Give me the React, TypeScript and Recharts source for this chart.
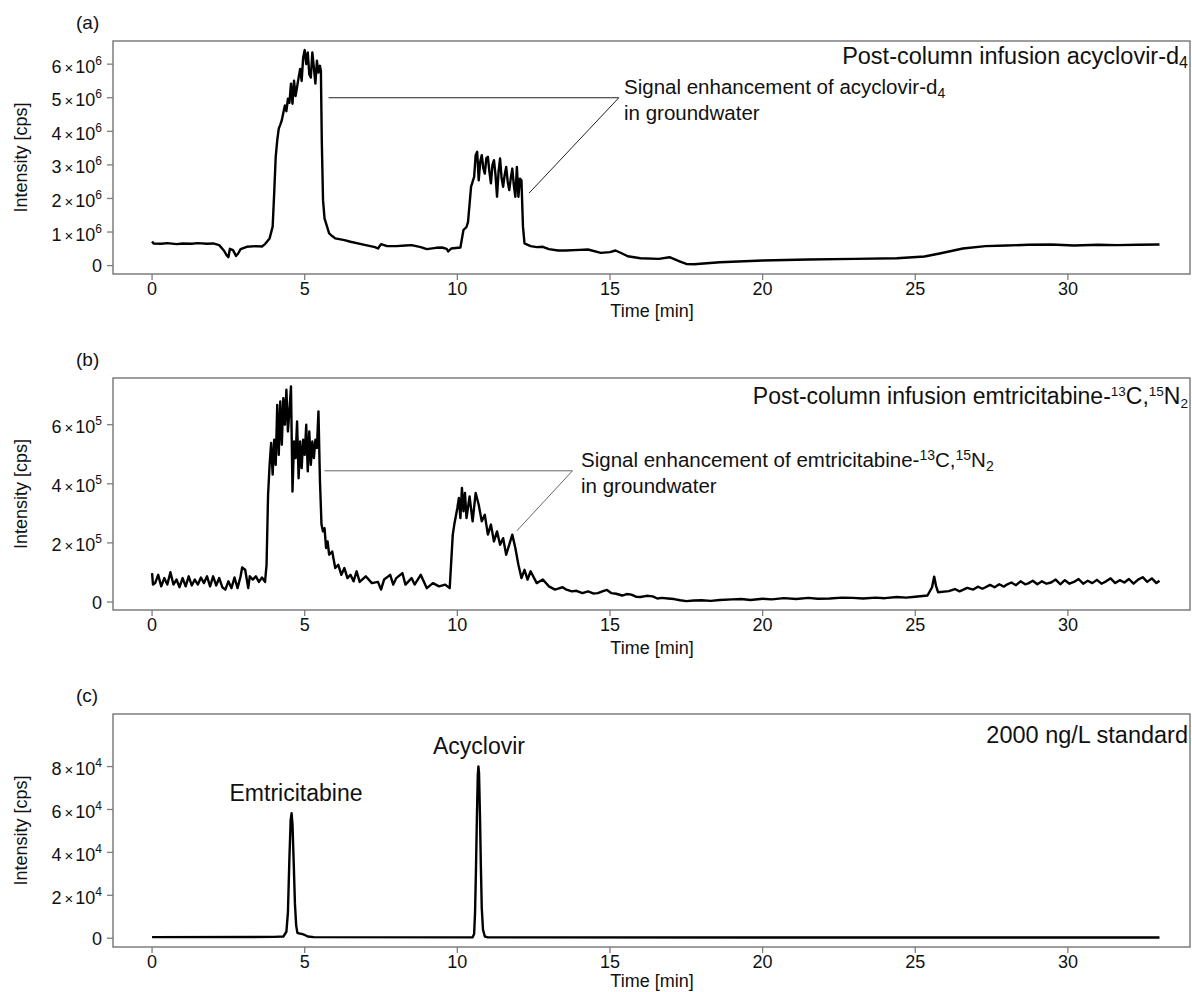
import React from 'react'
import { LineChart, Line, XAxis, YAxis, ReferenceArea, ReferenceLine } from 'recharts'

const FONT = "'Liberation Sans', Arial, Helvetica, sans-serif"
const BOX = '#7d7d7d'

const TIME_TICKS = [0, 5, 10, 15, 20, 25, 30]
const TIME_DOMAIN: [number, number] = [-1.28, 34]

// (a) post-column infusion acyclovir-d4, intensity x 10^6 cps
const timeA = [
  0, 0.05, 0.3, 0.5, 0.8, 1.0, 1.3, 1.5, 1.8, 2.0,
  2.2, 2.35, 2.45, 2.5, 2.55, 2.65, 2.75, 2.82, 2.9, 3.1,
  3.4, 3.6, 3.7, 3.85, 3.95, 4.0, 4.05, 4.1, 4.15, 4.2,
  4.25, 4.3, 4.35, 4.4, 4.45, 4.5, 4.55, 4.6, 4.65, 4.7,
  4.75, 4.8, 4.85, 4.9, 4.95, 5.0, 5.05, 5.1, 5.15, 5.2,
  5.25, 5.3, 5.35, 5.4, 5.45, 5.5, 5.53, 5.56, 5.6, 5.65,
  5.7, 5.8, 5.9, 6.0, 6.3, 6.5, 7.0, 7.3, 7.4, 7.5,
  7.7, 8.0, 8.3, 8.5, 8.8, 9.0, 9.3, 9.5, 9.65, 9.7,
  9.8, 10.1, 10.2, 10.3, 10.35, 10.45, 10.55, 10.6, 10.65, 10.7,
  10.75, 10.8, 10.85, 10.9, 10.95, 11.0, 11.05, 11.1, 11.15, 11.2,
  11.25, 11.3, 11.35, 11.4, 11.45, 11.5, 11.55, 11.6, 11.65, 11.7,
  11.75, 11.8, 11.85, 11.9, 11.95, 12.0, 12.05, 12.1, 12.15, 12.2,
  12.4, 12.6, 12.8, 13.0, 13.3, 13.55, 14.0, 14.28, 14.7, 15.0,
  15.18, 15.4, 15.58, 16.0, 16.6, 16.95, 17.3, 17.5, 17.75, 18.6,
  20.0, 21.5, 23.0, 24.4, 25.3, 25.8, 26.56, 27.3, 28.0, 28.7,
  29.45, 30.2, 31.0, 31.6, 32.3, 33.0,
]
const intensityA = [
  0.72, 0.66, 0.65, 0.67, 0.64, 0.66, 0.65, 0.67, 0.65, 0.66,
  0.61, 0.45, 0.3, 0.25, 0.5, 0.46, 0.29, 0.36, 0.49, 0.56,
  0.58, 0.57, 0.64, 0.81, 1.16, 2.15, 3.24, 3.73, 4.08, 4.2,
  4.33, 4.55, 4.77, 4.6, 4.97, 4.85, 5.42, 4.82, 5.51, 5.05,
  5.32, 5.6, 5.86, 5.5, 6.2, 6.42, 6.0, 6.35, 5.7, 5.6,
  6.35, 5.9, 5.42, 6.1, 5.75, 5.95, 5.8, 3.7, 1.95, 1.4,
  1.26, 0.96, 0.88, 0.81, 0.76, 0.71, 0.61, 0.55, 0.51, 0.64,
  0.58, 0.58, 0.6, 0.61, 0.55, 0.49, 0.53, 0.54, 0.5, 0.42,
  0.51, 0.54, 1.06, 1.15, 1.3, 2.35, 2.64, 3.29, 3.39, 2.54,
  3.1, 3.29, 2.9, 2.74, 3.2, 3.24, 2.8, 2.45, 3.0, 3.14,
  2.7, 2.05, 2.8, 3.19, 2.6, 2.35, 2.7, 2.94, 2.5, 2.25,
  2.6, 2.89, 2.4, 2.05, 2.94, 2.05, 2.59, 2.54, 1.16, 0.66,
  0.58, 0.55, 0.56, 0.49, 0.45, 0.45, 0.47, 0.48, 0.38, 0.4,
  0.45, 0.36, 0.28, 0.22, 0.2, 0.25, 0.12, 0.05, 0.04, 0.1,
  0.15, 0.18, 0.2, 0.22, 0.27, 0.36, 0.51, 0.58, 0.6, 0.62,
  0.63, 0.6, 0.62, 0.61, 0.62, 0.63,
]
const ticksA = [0, 1, 2, 3, 4, 5, 6]
const domainA: [number, number] = [-0.25, 6.69]
const calloutA = [[5.78, 5.0], [15.29, 5.0], [12.35, 2.16]]

// (b) post-column infusion emtricitabine-13C,15N2, intensity x 10^5 cps
const timeB = [
  0, 0.03, 0.1, 0.2, 0.3, 0.4, 0.5, 0.6, 0.7, 0.8,
  0.9, 1.0, 1.1, 1.2, 1.3, 1.4, 1.5, 1.6, 1.7, 1.8,
  1.9, 2.0, 2.1, 2.2, 2.3, 2.4, 2.5, 2.6, 2.7, 2.8,
  2.9, 2.95, 3.05, 3.15, 3.2, 3.3, 3.4, 3.5, 3.6, 3.7,
  3.75, 3.8, 3.85, 3.9, 3.95, 4.0, 4.05, 4.1, 4.15, 4.2,
  4.25, 4.3, 4.35, 4.4, 4.45, 4.5, 4.55, 4.6, 4.65, 4.7,
  4.75, 4.8, 4.85, 4.9, 4.95, 5.0, 5.05, 5.1, 5.15, 5.2,
  5.25, 5.3, 5.35, 5.4, 5.45, 5.5, 5.55, 5.6, 5.65, 5.7,
  5.75, 5.8, 5.9, 6.0, 6.1, 6.2, 6.3, 6.4, 6.5, 6.6,
  6.7, 6.8, 7.0, 7.2, 7.4, 7.5, 7.6, 7.8, 7.9, 8.0,
  8.2, 8.3, 8.5, 8.6, 8.8, 9.0, 9.2, 9.4, 9.6, 9.75,
  9.85, 9.9, 10.0, 10.05, 10.1, 10.15, 10.2, 10.25, 10.3, 10.4,
  10.5, 10.6, 10.7, 10.8, 10.9, 11.0, 11.1, 11.2, 11.3, 11.4,
  11.5, 11.6, 11.7, 11.8, 11.9, 12.0, 12.1, 12.2, 12.3, 12.4,
  12.6, 12.8, 13.0, 13.2, 13.3, 13.45, 13.55, 13.75, 13.9, 14.1,
  14.28, 14.45, 14.6, 14.75, 14.9, 15.05, 15.2, 15.4, 15.55, 15.7,
  15.85, 16.0, 16.2, 16.4, 16.55, 16.7, 16.9, 17.1, 17.3, 17.5,
  17.75, 18.0, 18.3, 18.6, 19.0, 19.3, 19.6, 20.0, 20.3, 20.7,
  21.1, 21.5, 21.8, 22.2, 22.6, 22.95, 23.3, 23.7, 24.0, 24.4,
  24.7, 25.0, 25.4, 25.55, 25.62, 25.68, 25.75, 26.1, 26.3, 26.45,
  26.56, 26.7, 26.9, 27.05, 27.2, 27.3, 27.45, 27.6, 27.75, 27.9,
  28.0, 28.15, 28.3, 28.45, 28.6, 28.7, 28.85, 29.0, 29.15, 29.3,
  29.45, 29.6, 29.75, 29.9, 30.05, 30.2, 30.35, 30.5, 30.65, 30.8,
  30.95, 31.1, 31.25, 31.4, 31.55, 31.7, 31.85, 32.0, 32.15, 32.3,
  32.45, 32.6, 32.75, 32.9, 33.0,
]
const intensityB = [
  0.98, 0.59, 0.64, 0.92, 0.53, 0.81, 0.59, 1.01, 0.59, 0.76,
  0.5, 0.81, 0.53, 0.87, 0.56, 0.76, 0.59, 0.83, 0.64, 0.87,
  0.53, 0.87, 0.56, 0.81, 0.5, 0.42, 0.7, 0.47, 0.83, 0.47,
  0.87, 1.17, 1.09, 0.47, 0.87, 0.76, 0.87, 0.68, 0.83, 0.68,
  1.26, 3.63, 4.64, 5.38, 4.31, 5.49, 4.64, 6.67, 4.98, 6.79,
  5.32, 6.9, 6.0, 7.18, 5.77, 6.5, 7.29, 3.74, 5.43, 4.87,
  6.11, 4.19, 5.43, 4.53, 5.49, 4.98, 6.0, 4.42, 5.77, 4.64,
  5.43, 4.87, 5.49, 5.21, 6.45, 4.08, 2.62, 2.39, 2.5, 1.83,
  2.05, 1.6, 1.71, 1.15, 1.26, 0.92, 1.15, 0.81, 0.92, 0.7,
  1.04, 0.68, 0.87, 0.64, 0.68, 0.42, 0.76, 0.92, 0.59, 0.81,
  0.98, 0.59, 0.81, 0.59, 0.92, 0.47, 0.64, 0.53, 0.59, 0.47,
  2.28, 2.62, 3.18, 3.52, 2.84, 3.86, 3.07, 3.69, 2.84, 3.57,
  2.73, 3.69, 3.29, 2.73, 2.95, 2.28, 2.62, 2.05, 2.39, 1.94,
  2.16, 1.6, 1.94, 2.28, 1.83, 1.26, 0.81, 1.09, 0.76, 1.04,
  0.64, 0.76, 0.53, 0.42, 0.45, 0.5, 0.43, 0.36, 0.38, 0.3,
  0.36, 0.29, 0.3, 0.36, 0.41, 0.3, 0.28, 0.22, 0.27, 0.25,
  0.18, 0.17, 0.21, 0.19, 0.12, 0.14, 0.12, 0.1, 0.06, 0.03,
  0.05, 0.06, 0.04, 0.07, 0.09, 0.1, 0.07, 0.11, 0.09, 0.13,
  0.1, 0.14, 0.11, 0.12, 0.15, 0.14, 0.12, 0.15, 0.13, 0.17,
  0.15, 0.18, 0.22, 0.5, 0.86, 0.55, 0.33, 0.37, 0.44, 0.36,
  0.41, 0.48, 0.42, 0.52, 0.45, 0.5, 0.58, 0.5, 0.6, 0.52,
  0.59, 0.66, 0.57, 0.7, 0.6, 0.63, 0.72, 0.6, 0.7, 0.62,
  0.66, 0.76, 0.6, 0.74, 0.62, 0.68, 0.78, 0.62, 0.72, 0.64,
  0.75, 0.62, 0.7, 0.8, 0.64, 0.74, 0.66, 0.78, 0.62, 0.76,
  0.84, 0.68, 0.8, 0.64, 0.72,
]
const ticksB = [0, 2, 4, 6]
const domainB: [number, number] = [-0.27, 7.58]
const calloutB = [[5.65, 4.44], [13.77, 4.44], [11.95, 2.41]]

// (c) 2000 ng/L standard, intensity x 10^4 cps
const timeC = [
  0, 4.0, 4.3, 4.4, 4.45, 4.5, 4.54, 4.57, 4.6, 4.64,
  4.68, 4.72, 4.76, 4.82, 4.9, 5.0, 5.1, 5.3, 10.5, 10.55,
  10.58, 10.61, 10.64, 10.67, 10.69, 10.71, 10.74, 10.77, 10.8, 10.84,
  10.9, 11.0, 33.0,
]
const intensityC = [
  0.05, 0.06, 0.08, 0.3, 1.2, 3.8, 5.5, 5.83, 5.3, 3.5,
  1.6, 0.6, 0.25, 0.22, 0.2, 0.15, 0.08, 0.05, 0.04, 0.2,
  1.2, 3.2, 5.6, 7.6, 8.0, 7.7, 5.8, 3.4, 1.4, 0.4,
  0.08, 0.04, 0.03,
]
const ticksC = [0, 2, 4, 6, 8]
const domainC: [number, number] = [-0.41, 10.45]

function PowerTick(props: any) {
  const { x, y, payload, exponent } = props
  const v = payload.value
  if (v === 0) {
    return (
      <text x={x} y={y} dy={6.5} textAnchor="end" fontSize={18} fontFamily={FONT} fill="#111">
        0
      </text>
    )
  }
  const m = Math.round(v / 10 ** exponent)
  return (
    <text x={x} y={y + 8.5} textAnchor="end" fontSize={18} fontFamily={FONT} fill="#111">
      {m}
      <tspan dx={3} fontSize={15}>×</tspan>
      <tspan dx={2}>10</tspan>
      <tspan dy={-8} fontSize={12}>{exponent}</tspan>
    </text>
  )
}

interface PanelProps {
  times: number[]
  values: number[]
  exponent: number
  ticks: number[]
  domain: [number, number]
  height: number
  axisHeight: number
  callout?: number[][]
  calloutColor?: string
}

function Panel({ times, values, exponent, ticks, domain, height, axisHeight, callout, calloutColor }: PanelProps) {
  const scale = 10 ** exponent
  const data = times.map((t, i) => ({ t, v: values[i] * scale }))
  const segs = callout ? callout.slice(1).map((p, i) => [callout[i], p]) : []

  return (
    <LineChart width={1192} height={height} data={data} margin={{ top: 41, right: 2, bottom: 0, left: 0 }}>
      <XAxis
        dataKey="t"
        type="number"
        domain={TIME_DOMAIN}
        ticks={TIME_TICKS}
        allowDataOverflow
        height={axisHeight}
        axisLine={false}
        tickLine={{ stroke: BOX, strokeWidth: 1.3 }}
        tickSize={6}
        tickMargin={2}
        tick={{ fontSize: 18, fill: '#111', fontFamily: FONT }}
      />
      <YAxis
        type="number"
        domain={[domain[0] * scale, domain[1] * scale]}
        ticks={ticks.map((k) => k * scale)}
        allowDataOverflow
        width={113}
        axisLine={false}
        tickLine={{ stroke: BOX, strokeWidth: 1.3 }}
        tickSize={6}
        tickMargin={5}
        tick={(p: any) => <PowerTick {...p} exponent={exponent} />}
      />
      <ReferenceArea
        x1={TIME_DOMAIN[0]}
        x2={TIME_DOMAIN[1]}
        y1={domain[0] * scale}
        y2={domain[1] * scale}
        fill="none"
        stroke={BOX}
        strokeWidth={1.5}
        ifOverflow="visible"
      />
      {segs.map(([a, b], i) => (
        <ReferenceLine
          key={i}
          segment={[{ x: a[0], y: a[1] * scale }, { x: b[0], y: b[1] * scale }]}
          stroke={calloutColor}
          strokeWidth={1}
          ifOverflow="visible"
        />
      ))}
      <Line
        dataKey="v"
        type="linear"
        stroke="#000"
        strokeWidth={2.4}
        strokeLinejoin="round"
        dot={false}
        isAnimationActive={false}
      />
    </LineChart>
  )
}

export default function App() {
  const sub = { fontSize: 14 }
  return (
    <div style={{ position: 'absolute', left: 0, top: 0, width: 1192, height: 992, background: '#fff', overflow: 'hidden' }}>
      <div style={{ position: 'absolute', left: 0, top: 0 }}>
        <Panel times={timeA} values={intensityA} exponent={6} ticks={ticksA} domain={domainA}
          height={337} axisHeight={63} callout={calloutA} calloutColor="#222" />
      </div>
      <div style={{ position: 'absolute', left: 0, top: 337 }}>
        <Panel times={timeB} values={intensityB} exponent={5} ticks={ticksB} domain={domainB}
          height={337} axisHeight={64} callout={calloutB} calloutColor="#666" />
      </div>
      <div style={{ position: 'absolute', left: 0, top: 673 }}>
        <Panel times={timeC} values={intensityC} exponent={4} ticks={ticksC} domain={domainC}
          height={319} axisHeight={45} />
      </div>

      <svg width={1192} height={992} style={{ position: 'absolute', left: 0, top: 0, pointerEvents: 'none' }}
        fontFamily={FONT} fill="#111">
        <text x={76} y={29} fontSize={19}>(a)</text>
        <text x={76} y={366} fontSize={19}>(b)</text>
        <text x={76} y={702} fontSize={19}>(c)</text>

        {[157.5, 494, 830.5].map((yc) => (
          <text key={yc} transform={`translate(21 ${yc}) rotate(-90)`} textAnchor="middle"
            dominantBaseline="central" fontSize={18}>Intensity [cps]</text>
        ))}
        {[317, 654, 987].map((yb) => (
          <text key={yb} x={652} y={yb} textAnchor="middle" fontSize={18}>Time [min]</text>
        ))}

        <text x={1188} y={64} textAnchor="end" fontSize={23.5}>
          Post-column infusion acyclovir-d<tspan dy={4} fontSize={16}>4</tspan>
        </text>
        <text x={624} y={94} fontSize={20.5}>
          Signal enhancement of acyclovir-d<tspan dy={4} {...sub}>4</tspan>
        </text>
        <text x={624} y={119.5} fontSize={20.5}>in groundwater</text>

        <text x={1188} y={404} textAnchor="end" fontSize={23}>
          Post-column infusion emtricitabine-<tspan dy={-8} fontSize={13.5}>13</tspan>
          <tspan dy={8}>C,</tspan>
          <tspan dy={-8} fontSize={13.5}>15</tspan>
          <tspan dy={8}>N</tspan>
          <tspan dy={4} fontSize={13.5}>2</tspan>
        </text>
        <text x={581} y={466.7} fontSize={20.5}>
          Signal enhancement of emtricitabine-<tspan dy={-7} {...sub}>13</tspan>
          <tspan dy={7}>C,</tspan>
          <tspan dy={-7} {...sub}>15</tspan>
          <tspan dy={7}>N</tspan>
          <tspan dy={4} {...sub}>2</tspan>
        </text>
        <text x={581} y={493.3} fontSize={20.5}>in groundwater</text>

        <text x={1188} y={742.7} textAnchor="end" fontSize={23.5}>2000 ng/L standard</text>
        <text x={296} y={801} textAnchor="middle" fontSize={23}>Emtricitabine</text>
        <text x={479} y={753.5} textAnchor="middle" fontSize={23}>Acyclovir</text>
      </svg>
    </div>
  )
}
